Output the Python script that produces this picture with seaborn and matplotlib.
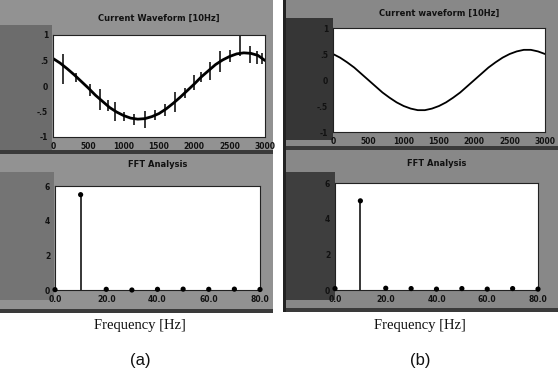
import numpy as np
import pandas as pd
import seaborn as sns
import matplotlib.pyplot as plt
from matplotlib.patches import Rectangle

sns.set_theme(style="white")
plt.rcParams['font.family'] = ['DejaVu Sans']

# waveform samples (every 100 samples, 0..3000)
samples = [0, 100, 200, 300, 400, 500, 600, 700, 800, 900, 1000,
           1100, 1200, 1300, 1400, 1500, 1600, 1700, 1800, 1900, 2000,
           2100, 2200, 2300, 2400, 2500, 2600, 2700, 2800, 2900, 3000]
wave_a = [0.54, 0.45, 0.34, 0.22, 0.09, -0.04, -0.18, -0.30, -0.42, -0.51, -0.58,
          -0.63, -0.65, -0.64, -0.60, -0.54, -0.45, -0.34, -0.22, -0.09, 0.04,
          0.18, 0.30, 0.42, 0.51, 0.58, 0.63, 0.65, 0.64, 0.60, 0.50]
wave_b = [0.50, 0.43, 0.34, 0.24, 0.12, 0.00, -0.12, -0.24, -0.34, -0.43, -0.50,
          -0.55, -0.58, -0.58, -0.55, -0.50, -0.43, -0.34, -0.24, -0.12, 0.00,
          0.12, 0.24, 0.34, 0.43, 0.50, 0.55, 0.58, 0.58, 0.55, 0.50]

# noise spikes on waveform (a)
spike_x = [140, 330, 520, 665, 780, 877, 1000, 1150, 1302, 1450, 1580,
           1726, 1868, 2000, 2100, 2222, 2363, 2500, 2646, 2788, 2887, 2960]
spike_up = [0.22, 0.08, 0.10, 0.20, 0.12, 0.18, 0.08, 0.10, 0.15, 0.10, 0.12,
            0.20, 0.10, 0.18, 0.10, 0.15, 0.20, 0.12, 0.62, 0.15, 0.08, 0.10]
spike_dn = [0.36, 0.10, 0.12, 0.22, 0.10, 0.20, 0.10, 0.12, 0.18, 0.10, 0.12,
            0.20, 0.10, 0.12, 0.10, 0.20, 0.20, 0.10, 0.05, 0.20, 0.18, 0.10]

# FFT spectra
freqs = [0, 10, 20, 30, 40, 50, 60, 70, 80]
fft_a = [0.02, 5.5, 0.04, 0.0, 0.04, 0.05, 0.04, 0.05, 0.03]
fft_b = [0.08, 5.0, 0.10, 0.08, 0.05, 0.08, 0.05, 0.08, 0.05]

W, H = 560, 378
fig = plt.figure(figsize=(5.6, 3.78), dpi=100)
fig.patch.set_facecolor('white')


def px_rect(x0, y0, x1, y1, color):
    fig.patches.append(Rectangle((x0 / W, 1 - y1 / H), (x1 - x0) / W, (y1 - y0) / H,
                                 transform=fig.transFigure, facecolor=color,
                                 edgecolor='none', zorder=-5))


def px_axes(x0, y0, x1, y1):
    ax = fig.add_axes([x0 / W, 1 - y1 / H, (x1 - x0) / W, (y1 - y0) / H])
    ax.set_zorder(2)
    return ax


# scanned gray panels
px_rect(0, 0, 273, 313, '#929292')
px_rect(0, 25, 52, 150, '#6c6c6c')
px_rect(0, 172, 54, 300, '#747474')
px_rect(0, 150, 273, 154, '#3a3a3a')
px_rect(0, 309, 273, 313, '#3a3a3a')
px_rect(283, 0, 558, 312, '#888888')
px_rect(285, 18, 333, 140, '#363636')
px_rect(285, 172, 335, 300, '#3e3e3e')
px_rect(283, 146, 558, 150, '#3a3a3a')
px_rect(283, 308, 558, 312, '#3a3a3a')
px_rect(283, 0, 286, 312, '#222222')


def style(ax):
    ax.set_facecolor('white')
    for s in ax.spines.values():
        s.set_visible(True)
        s.set_color('#222222')
        s.set_linewidth(0.8)
    ax.tick_params(length=2, width=0.8, pad=1.5, labelsize=5.5, colors='#111111')
    for lab in ax.get_xticklabels() + ax.get_yticklabels():
        lab.set_fontweight('bold')
    ax.set_xlabel('')
    ax.set_ylabel('')


def wave_axes(ax, y, title, noisy, pad):
    df = pd.DataFrame({'sample': samples, 'value': y})
    sns.lineplot(data=df, x='sample', y='value', ax=ax, color='black',
                 linewidth=2.0 if noisy else 1.3)
    if noisy:
        base = np.interp(spike_x, samples, y)
        ax.vlines(spike_x, base - np.array(spike_dn), base + np.array(spike_up),
                  color='black', linewidth=1.1)
    ax.set_xlim(0, 3000)
    ax.set_ylim(-1, 1)
    ax.set_xticks([0, 500, 1000, 1500, 2000, 2500, 3000])
    ax.set_yticks([-1, -0.5, 0, 0.5, 1])
    ax.set_yticklabels(['-1', '-.5', '0', '.5', '1'])
    style(ax)
    ax.set_title(title, fontsize=6, fontweight='bold', color='#111111', pad=pad)


def fft_axes(ax, vals, pad):
    df = pd.DataFrame({'freq': freqs, 'amp': vals})
    ax.vlines(freqs, 0, vals, color='black', linewidth=1.1)
    sns.scatterplot(data=df, x='freq', y='amp', ax=ax, color='black', s=14,
                    edgecolor='none', clip_on=False, zorder=3)
    ax.set_xlim(0, 80)
    ax.set_ylim(0, 6)
    ax.set_xticks([0, 20, 40, 60, 80])
    ax.set_xticklabels(['0.0', '20.0', '40.0', '60.0', '80.0'])
    ax.set_yticks([0, 2, 4, 6])
    style(ax)
    ax.set_title('FFT Analysis', fontsize=6, fontweight='bold', color='#111111', pad=pad)


ax1 = px_axes(53, 35, 265, 137)
wave_axes(ax1, wave_a, 'Current Waveform [10Hz]', True, 10.5)
ax2 = px_axes(333, 28, 545, 132)
wave_axes(ax2, wave_b, 'Current waveform [10Hz]', False, 9)
ax3 = px_axes(55, 186, 260, 290)
fft_axes(ax3, fft_a, 14)
ax4 = px_axes(335, 183, 538, 290)
fft_axes(ax4, fft_b, 12)

for cx, tag in [(140, '(a)'), (420, '(b)')]:
    fig.text(cx / W, 1 - 326 / H, 'Frequency [Hz]', ha='center', va='center',
             fontsize=10.5, family=['Liberation Serif'], color='#111111')
    fig.text(cx / W, 1 - 360 / H, tag, ha='center', va='center',
             fontsize=12, family=['Liberation Sans'], color='#111111')

fig.savefig('out.png', dpi=100)
